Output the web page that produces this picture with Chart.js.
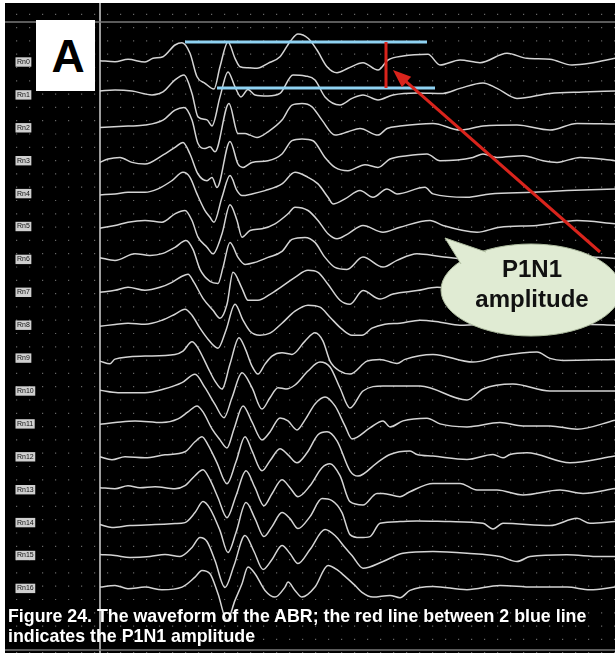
<!DOCTYPE html>
<html>
<head>
<meta charset="utf-8">
<script src="https://cdn.jsdelivr.net/npm/chart.js@4.4.1/dist/chart.umd.min.js"></script>
<style>
  html, body { margin: 0; padding: 0; background: #fff; }
  #wrap { position: relative; width: 615px; height: 654px; overflow: hidden; }
  #abr { position: absolute; left: 0; top: 0; }
  .panel { position: absolute; left: 36px; top: 20px; width: 59px; height: 71px; background: #fff;
           display: flex; align-items: center; justify-content: center;
           font: bold 46px "Liberation Sans", Arial, sans-serif; color: #000; padding-left: 5px; box-sizing: border-box; }
  .bubble-text { position: absolute; left: 452px; top: 254px; width: 160px; text-align: center;
                 font: bold 24px "Liberation Sans", Arial, sans-serif; color: #111; line-height: 30px; }
  .caption { position: absolute; left: 8px; top: 606px; color: #fff;
             font: bold 17.8px "Liberation Sans", Arial, sans-serif; line-height: 20px; }
</style>
</head>
<body>
<div id="wrap">
  <canvas id="abr" width="615" height="654"></canvas>
  <div class="panel">A</div>
  <div class="bubble-text">P1N1<br>amplitude</div>
  <div class="caption">Figure 24. The waveform of the ABR; the red line between 2 blue line<br>indicates the P1N1 amplitude</div>
</div>
<script>
// sweep position in samples from stimulus onset, amplitude in 0.01 uV
const traceNames = ['Rn0', 'Rn1', 'Rn2', 'Rn3', 'Rn4', 'Rn5', 'Rn6', 'Rn7', 'Rn8',
                    'Rn9', 'Rn10', 'Rn11', 'Rn12', 'Rn13', 'Rn14', 'Rn15', 'Rn16'];
const SPACING = 32.9;

const rn0Samples = [0,15,28,45,53,63,75,82,90,97,105,114,120,128,135,140,148,157,168,180,190,198,208,217,227,237,248,263,278,288,303,328,340,360,380,407,427,450,472,490,515];
const rn0Amp = [1.3,0.3,2.7,0,3.7,5.3,17,19.3,8.7,-14.7,-21.3,-27,-4.7,20,3.7,-4.7,-5.7,-6.3,-1.3,5.3,20.3,28,23.7,12,-4.7,-10.7,-6.3,-0.7,-8,2,6,7.7,-3,2,-0.7,8.7,3.7,2.7,-3,-1.3,3.7];

const rn1Samples = [0,15,32,52,63,75,84,92,98,107,112,120,128,135,141,148,155,168,180,193,205,215,225,240,252,263,278,293,317,343,360,383,397,417,450,483,515];
const rn1Amp = [4,4.8,3.8,0,3,15,20,1.5,-22,-25,-31,-2,23,8,-2,5.5,0,-1,1.5,20,19,15,-2,-10,-3.5,0,-5,0,2,1.5,6.5,12,6.5,-3.5,1.5,3,4];

const rn2Samples = [0,28,45,63,75,84,92,98,105,110,115,129,138,145,150,157,168,182,192,202,212,222,235,248,260,278,287,300,333,360,383,417,450,477,515];
const rn2Amp = [0.3,1.7,2.7,7.7,17.7,20.3,7.7,-15.7,-20.7,-19,-24,24.3,-5.7,-5.7,-7.3,-9.7,-4,7.7,22.7,24.3,21,7.7,-7.3,-4,-0.7,-7.3,-0.7,1.7,4.3,-2.3,1.7,2.7,-2.3,4.3,3.7];

const rn3Samples = [0,8,20,32,45,62,75,83,90,98,107,112,117,130,138,143,152,168,182,192,202,213,225,235,248,265,278,290,307,327,340,373,383,397,423,443,457,480,515];
const rn3Amp = [-1.7,1.7,3.3,-1.7,-3.3,5,13.3,18.3,6.7,-13.3,-20,-16.7,-26.7,19.3,-3.3,-6.7,-1.7,0,6.7,20,21.7,20,3.3,-6.7,-10,-4,-6.7,1.7,5,6.7,0,3.3,6.7,3.3,5,0,-1.7,3.3,0];

const rn4Samples = [0,15,28,45,58,72,83,90,97,105,110,114,122,130,137,142,152,165,182,195,208,218,228,233,245,260,273,287,297,325,333,367,390,433,467,515];
const rn4Amp = [-1.3,-0.3,1.3,1.3,4.7,13,21.3,16.3,-0.3,-17,-23.7,-28.7,-3.7,18,3,-2,-0.3,3,9.7,21.3,16.3,9.7,-3.7,-10.3,-5.3,3,-3.7,4.7,-0.3,6.3,-0.3,-3.7,-0.3,1.3,3,4.7];

const rn5Samples = [0,15,28,45,62,75,85,92,98,107,113,122,130,137,142,150,162,175,188,195,208,218,228,237,248,263,283,300,330,343,377,400,437,477,515];
const rn5Amp = [-1.7,1,4.3,6,4.3,12.7,16,6,-10.7,-20.7,-27.3,-7.3,21.7,6,-10.7,-4,-2.3,2.7,12.7,19.3,16,6,-7.3,-12.3,-7.3,1,-5.7,-0.7,6,1,-5.7,-0.7,1,6,2.7];

const rn6Samples = [0,15,35,50,63,75,86,93,100,110,118,123,130,138,145,155,168,182,192,205,215,225,235,247,263,283,297,317,340,370,400,440,480,515];
const rn6Amp = [1.7,-1,5.7,4,6,12,19,10,-10,-22,-24,-8,17,2,-5,-3,2,8,20,22,17,2,-8,-10,2.3,-7.7,-1,5.7,3,0,2,-1,3,1];

const rn7Samples = [0,15,28,45,60,72,82,88,94,103,113,120,127,133,142,148,158,170,182,195,208,218,228,240,250,263,280,293,317,337,370,410,450,490,515];
const rn7Amp = [0,2,5,2,5,10,16,18,10,-6,-18,-26,-12,20,4,-8,-8,-2,6,15,22,20,8,-8,-12,1.7,-6.7,-1.7,1.7,5,2,-2,1,0,2];

const rn8Samples = [0,15,28,45,62,75,85,92,100,108,118,126,135,143,150,160,170,182,195,208,220,230,242,252,262,272,285,300,320,340,360,400,440,480,515];
const rn8Amp = [-1,0.7,2,1,5,11,16,10,-3,-14,-23,-5,21,5,-6,-10,-8,2,14,20,18,8,-4,-10,-10,-3,1,2,5,3,0,2,-1,1,0];

const rn9Samples = [0,10,15,45,75,83,92,98,108,115,122,130,139,145,152,158,165,172,182,192,205,215,223,230,240,250,267,280,297,305,333,373,400,437,450,463,515];
const rn9Amp = [-3,-5.7,-1,2,3.7,7,16.3,10,-9.7,-23,-31,-6,20.3,10,-8,-16,-6,2,5.3,3.7,17,25.3,17,-3,-13,-16,-3,-1.3,-5.3,-1.3,3.7,-4,2,6,-0.3,-2.3,-1.3];

const rn10Samples = [0,18,45,63,82,95,105,115,124,132,142,152,162,170,178,186,195,208,220,230,240,250,263,283,320,367,383,413,450,515];
const rn10Amp = [0.7,-1.7,-1.7,1.7,8.3,16.7,3.3,-13.3,-26.7,-6.7,18.3,3.3,-18,-6.7,3.3,2,6,20,29,24,3,-17,0,5,5,-9,2,7,0,0];

const rn11Samples = [0,15,35,62,78,88,97,103,112,120,127,134,143,152,162,170,180,188,197,205,215,225,235,245,252,270,283,290,303,327,340,367,400,423,450,477,515];
const rn11Amp = [-0.3,1.3,3,1.3,5,12,18,12,-5,-16,-24,-5,18,2,-16,-8,6,3,-6,4,20,27,18,-2,-15,-4,3,-3,3,5.7,0,-3,1.3,-2,-2,-5.3,3.7];

const rn12Samples = [0,12,25,45,65,85,95,102,108,117,127,136,145,152,162,170,180,188,197,207,218,227,237,250,258,277,290,310,317,333,367,393,403,410,427,470,515];
const rn12Amp = [0,-3,0,-1,2,5,15,20,12,-6,-27,-5,20,6,-14,-4,8,2,-6,4,22,25,16,-14,-19.3,-6,2.3,5.7,2.3,0.7,-2.7,2.3,-1,2.3,4,-6,0.7];

const rn13Samples = [0,15,28,40,55,75,85,95,103,110,118,127,136,146,155,164,172,182,190,198,210,222,230,240,250,263,277,283,300,310,333,360,377,397,423,460,483,515];
const rn13Amp = [2,1,4,2,3,1,4,14,20,10,-8,-28,-6,19,2,-16,-4,10,2,-7,4,22,26,14,-12,-15.3,-3.7,-3.7,-7,-2,6.3,6.3,-0.3,-0.3,-5.3,-0.3,-3.7,1.3];

const rn14Samples = [0,12,30,55,75,85,95,103,110,120,128,136,146,155,164,172,182,190,198,210,222,232,242,250,260,270,280,300,317,350,383,393,403,450,477,490,515];
const rn14Amp = [-2,-5,-3,-2,-1,0,10,21,14,-8,-30,-10,20,4,-14,-4,10,4,-6,6,24,22,10,-12,-15,-14,-0.7,1,1.7,1,-0.7,-6.3,-0.7,-3,4.3,-0.7,1];

const rn15Samples = [0,15,30,50,65,80,92,100,107,115,125,134,145,154,163,172,182,190,198,210,225,235,245,252,263,283,303,333,367,400,417,430,467,500,515];
const rn15Amp = [1,0,-2,-1,1,-1,8,18,14,-5,-32,-10,20,4,-14,-4,10,2,-8,6,26,20,8,0,-12.7,-6,2.3,4,2.3,-1,-6,-1,0.7,-1,-1];

const rn16Samples = [0,15,28,45,62,82,95,102,110,118,127,135,142,148,155,165,175,185,188,195,202,215,228,238,245,255,262,273,290,300,310,333,367,400,433,467,490,515];
const rn16Amp = [1.3,3,-0.3,1.3,-1.3,1.3,11.3,18,14.7,-5.3,-32,-12,4.7,21.3,14.7,-2,-8.7,1.3,6.3,-2,-8.7,1.3,23,18,12,3,-4,-8.7,-7,-9.3,-2,2,-1.3,3,1.3,1.3,-1.3,1.3];

// P1N1 markers on Rn0
const P1_LEVEL = 20;
const N1_LEVEL = -26;
const P1_SPAN = [85, 327];
const N1_SPAN = [117, 335];
const MEASURE_AT = 286;

const traceSamples = [rn0Samples, rn1Samples, rn2Samples, rn3Samples, rn4Samples, rn5Samples, rn6Samples, rn7Samples, rn8Samples,
                      rn9Samples, rn10Samples, rn11Samples, rn12Samples, rn13Samples, rn14Samples, rn15Samples, rn16Samples];
const traceAmps = [rn0Amp, rn1Amp, rn2Amp, rn3Amp, rn4Amp, rn5Amp, rn6Amp, rn7Amp, rn8Amp,
                   rn9Amp, rn10Amp, rn11Amp, rn12Amp, rn13Amp, rn14Amp, rn15Amp, rn16Amp];

var datasets = traceNames.map(function (name, i) {
    return {
        label: name,
        data: traceSamples[i].map(function (s, k) { return {x: s, y: traceAmps[i][k] - i * SPACING}; }),
        borderColor: '#d4d4d4',
        borderWidth: 1.5,
        pointRadius: 0,
        cubicInterpolationMode: 'monotone',
        order: 2
    };
});
datasets.push({
    label: 'P1',
    data: [{x: P1_SPAN[0], y: P1_LEVEL}, {x: P1_SPAN[1], y: P1_LEVEL}],
    borderColor: '#8fd2f2', borderWidth: 3, pointRadius: 0, order: 1
});
datasets.push({
    label: 'N1',
    data: [{x: N1_SPAN[0], y: N1_LEVEL}, {x: N1_SPAN[1], y: N1_LEVEL}],
    borderColor: '#8fd2f2', borderWidth: 3, pointRadius: 0, order: 1
});
datasets.push({
    label: 'P1N1',
    data: [{x: MEASURE_AT, y: P1_LEVEL}, {x: MEASURE_AT, y: N1_LEVEL}],
    borderColor: '#d9241c', borderWidth: 3, pointRadius: 0, order: 0
});

// black screen, frame lines, callout bubble and arrow
const screenPlugin = {
    id: 'screen',
    beforeDraw: function (chart) {
        var c = chart.ctx;
        c.save();
        c.fillStyle = '#fff';
        c.fillRect(0, 0, chart.width, chart.height);
        c.fillStyle = '#000';
        c.fillRect(5, 3, 610, 650);
        c.restore();
    },
    beforeDatasetsDraw: function (chart) {
        var c = chart.ctx;
        c.save();
        c.strokeStyle = '#7a7a7a';
        c.lineWidth = 1.5;
        c.beginPath();
        c.moveTo(5, 22); c.lineTo(615, 22);
        c.moveTo(5, 650); c.lineTo(615, 650);
        c.stroke();
        c.restore();
    },
    afterDatasetsDraw: function (chart) {
        var c = chart.ctx;
        c.save();
        // arrow
        var tail = {x: 600, y: 252}, tip = {x: 393, y: 70};
        var ang = Math.atan2(tip.y - tail.y, tip.x - tail.x);
        var hl = 18, hw = 7;
        c.strokeStyle = '#d9241c';
        c.fillStyle = '#d9241c';
        c.lineWidth = 3;
        c.beginPath();
        c.moveTo(tail.x, tail.y);
        c.lineTo(tip.x - hl * 0.8 * Math.cos(ang), tip.y - hl * 0.8 * Math.sin(ang));
        c.stroke();
        var bx = tip.x - hl * Math.cos(ang), by = tip.y - hl * Math.sin(ang);
        c.beginPath();
        c.moveTo(tip.x, tip.y);
        c.lineTo(bx + hw * Math.sin(ang), by - hw * Math.cos(ang));
        c.lineTo(bx - hw * Math.sin(ang), by + hw * Math.cos(ang));
        c.closePath();
        c.fill();
        // bubble
        c.fillStyle = '#e0ebd3';
        c.strokeStyle = '#aebc9f';
        c.lineWidth = 1;
        c.beginPath();
        c.ellipse(531, 290, 90, 46, 0, 0, Math.PI * 2);
        c.fill();
        c.stroke();
        c.beginPath();
        c.moveTo(461, 264);
        c.lineTo(445, 238);
        c.lineTo(486, 252);
        c.closePath();
        c.fill();
        c.beginPath();
        c.moveTo(461, 264);
        c.lineTo(445, 238);
        c.lineTo(486, 252);
        c.stroke();
        c.restore();
    }
};

var ctx = document.getElementById('abr');
var abrChart = new Chart(ctx, {
    type: 'line',
    data: {datasets: datasets},
    plugins: [screenPlugin],
    options: {
        responsive: false,
        animation: false,
        layout: {padding: {left: 5, top: 3, right: 0, bottom: 1}},
        plugins: {legend: {display: false}, tooltip: {enabled: false}},
        scales: {
            x: {
                type: 'linear',
                min: -95,
                max: 515,
                afterBuildTicks: function (scale) {
                    var t = [];
                    for (var v = -83; v <= 515; v += 13) t.push({value: v});
                    t.push({value: 0});
                    scale.ticks = t;
                },
                afterFit: function (scale) {
                    scale.height = 0;
                    scale.paddingLeft = 0;
                    scale.paddingRight = 0;
                },
                ticks: {display: false, autoSkip: false},
                grid: {
                    drawTicks: false,
                    color: function (c) { return c.tick && c.tick.value === 0 ? '#9c9c9c' : '#666'; },
                    lineWidth: function (c) { return c.tick && c.tick.value === 0 ? 2 : 1.2; }
                },
                border: {
                    display: false,
                    dash: function (c) { return c.tick && c.tick.value === 0 ? [] : [1.2, 12.1]; },
                    dashOffset: 2.6
                }
            },
            y: {
                type: 'linear',
                min: -591,
                max: 59,
                afterBuildTicks: function (scale) {
                    scale.ticks = traceNames.map(function (n, i) { return {value: -i * SPACING}; });
                },
                afterFit: function (scale) {
                    scale.width = 0;
                    scale.paddingTop = 0;
                    scale.paddingBottom = 0;
                },
                grid: {display: false, drawTicks: false},
                border: {display: false},
                ticks: {
                    mirror: true,
                    padding: 12,
                    autoSkip: false,
                    color: '#111',
                    font: {size: 7, family: 'Liberation Sans'},
                    showLabelBackdrop: true,
                    backdropColor: '#cfcfcf',
                    backdropPadding: {top: 0.5, bottom: 0.5, left: 1.5, right: 1.5},
                    callback: function (v) { return traceNames[Math.round(-v / SPACING)]; }
                }
            }
        }
    }
});
</script>
</body>
</html>
